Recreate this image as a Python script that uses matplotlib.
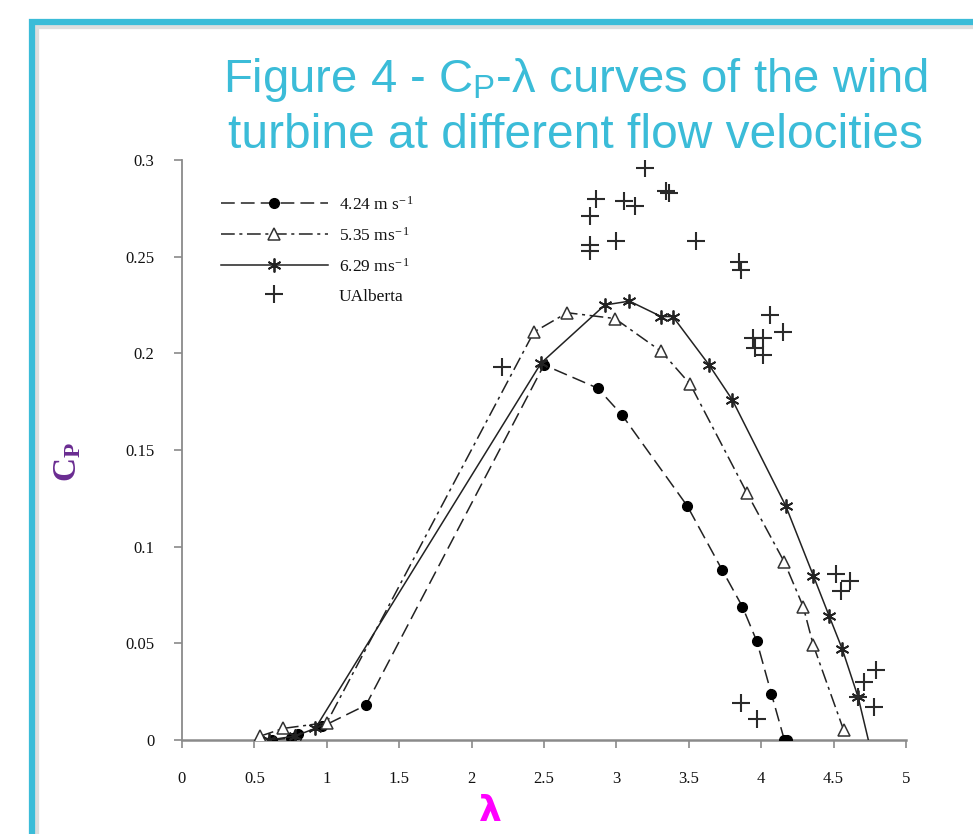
import matplotlib
matplotlib.use("Agg")
import matplotlib.pyplot as plt
from matplotlib.patches import Rectangle

# ---------------- data ----------------
circ_x = [0.62, 0.75, 0.80, 0.97, 1.27, 2.50, 2.87, 3.04, 3.49, 3.73, 3.87, 3.97, 4.07, 4.16, 4.18]
circ_y = [0.000, 0.001, 0.003, 0.007, 0.018, 0.194, 0.182, 0.168, 0.121, 0.088, 0.069, 0.051, 0.024, 0.000, 0.000]

tri_x = [0.54, 0.70, 1.00, 2.43, 2.66, 2.99, 3.31, 3.51, 3.90, 4.16, 4.29, 4.36, 4.57]
tri_y = [0.002, 0.006, 0.009, 0.211, 0.221, 0.218, 0.201, 0.184, 0.128, 0.092, 0.069, 0.049, 0.005]

star_x = [0.60, 0.78, 0.92, 2.48, 2.92, 3.09, 3.31, 3.39, 3.64, 3.80, 4.17, 4.36, 4.47, 4.56, 4.67, 4.74]
star_y = [0.000, 0.002, 0.006, 0.195, 0.225, 0.227, 0.219, 0.219, 0.194, 0.176, 0.121, 0.085, 0.064, 0.047, 0.022, 0.000]

ua_x = [3.20, 2.86, 2.82, 3.05, 3.13, 3.34, 3.36, 2.82, 2.82, 3.00, 3.55, 3.85, 3.86,
        4.06, 4.15, 3.94, 4.01, 3.96, 4.01, 2.21, 4.52, 4.61, 4.55, 4.79, 4.71, 4.67,
        4.78, 3.86, 3.97]
ua_y = [0.296, 0.280, 0.271, 0.279, 0.276, 0.284, 0.283, 0.256, 0.253, 0.258, 0.258, 0.247, 0.243,
        0.220, 0.211, 0.208, 0.208, 0.203, 0.199, 0.193, 0.086, 0.082, 0.077, 0.036, 0.030, 0.022,
        0.017, 0.019, 0.011]

series_labels = ["4.24 m s$^{-\\,1}$", "5.35 ms$^{-\\,1}$", "6.29 ms$^{-\\,1}$", "UAlberta"]
x_ticks = [0, 0.5, 1, 1.5, 2, 2.5, 3, 3.5, 4, 4.5, 5]
x_ticklabels = ["0", "0.5", "1", "1.5", "2", "2.5", "3", "3.5", "4", "4.5", "5"]
y_ticks = [0, 0.05, 0.1, 0.15, 0.2, 0.25, 0.3]
y_ticklabels = ["0", "0.05", "0.1", "0.15", "0.2", "0.25", "0.3"]

title_line1 = "Figure 4 - C$_\\mathregular{P}$-λ curves of the wind"
title_line2 = "turbine at different flow velocities"

# ---------------- style ----------------
plt.rcParams['mathtext.fontset'] = 'custom'
plt.rcParams['mathtext.rm'] = 'Liberation Serif'
plt.rcParams['mathtext.it'] = 'Liberation Serif'

W, H = 973, 834
fig = plt.figure(figsize=(W / 100, H / 100), dpi=100)
fig.patch.set_facecolor('white')

cyan = '#3bbcd8'
# slide frame with a soft shadow
shadow = Rectangle((35.5 / W, -0.2), 1.5, 1 - 25.5 / H + 0.2, transform=fig.transFigure,
                   fill=False, edgecolor='#dedede', linewidth=4.5, zorder=0)
frame = Rectangle((32 / W, -0.2), 1.5, 1 - 22 / H + 0.2, transform=fig.transFigure,
                  fill=False, edgecolor=cyan, linewidth=4.5, zorder=1)
fig.patches.extend([shadow, frame])

ax = fig.add_axes([182 / W, 94 / H, (906 - 182) / W, (740 - 160) / H])
ax.set_facecolor('none')

lc = '#222222'
ax.plot(circ_x, circ_y, color=lc, lw=1.1, dashes=(9, 4), marker='o', ms=7,
        mfc='black', mec='black', label=series_labels[0], zorder=3)
ax.plot(tri_x, tri_y, color=lc, lw=1.1, dashes=(9, 3, 2, 3), marker='^', ms=9,
        mfc='white', mec='#333333', mew=1.1, label=series_labels[1], zorder=3)
ax.plot(star_x, star_y, color=lc, lw=1.1, marker=(6, 2, 0), ms=10, mec='#222222', mew=1.3,
        markevery=list(range(len(star_x) - 1)), label=series_labels[2], zorder=3)
ax.plot(ua_x, ua_y, ls='none', marker='+', ms=13, mew=1.5, color='#2a2a2a',
        label=series_labels[3], zorder=4)

ax.set_xlim(0, 5)
ax.set_ylim(0, 0.3)
ax.set_xticks(x_ticks)
ax.set_xticklabels(x_ticklabels)
ax.set_yticks(y_ticks)
ax.set_yticklabels(y_ticklabels)

for s in ['top', 'right']:
    ax.spines[s].set_visible(False)
for s in ['left', 'bottom']:
    ax.spines[s].set_color('#8a8a8a')
    ax.spines[s].set_linewidth(1.8)
ax.spines['left'].set_linewidth(1.3)

ax.tick_params(axis='both', colors='#8a8a8a', labelcolor='#111111', length=6, width=1.2,
               labelsize=12, direction='out')
ax.tick_params(axis='x', pad=16)
ax.tick_params(axis='y', pad=14)
for lab in ax.get_xticklabels() + ax.get_yticklabels():
    lab.set_family('Liberation Serif')

leg = ax.legend(loc='upper left', bbox_to_anchor=(205 / W, 1 - 180 / H),
                bbox_transform=fig.transFigure, frameon=False, handlelength=6.2,
                handletextpad=0.6, labelspacing=0.75, prop={'family': 'Liberation Serif', 'size': 12.5})
for t in leg.get_texts():
    t.set_color('#111111')

# titles and axis labels
fig.text(576 / W, 1 - 80 / H, title_line1, ha='center', va='center', color=cyan,
         fontsize=34, family='Liberation Sans')
fig.text(575 / W, 1 - 135 / H, title_line2, ha='center', va='center', color=cyan,
         fontsize=34.5, family='Liberation Sans')

fig.text(68 / W, 1 - 462 / H, "C$_\\mathregular{P}$", rotation=90, ha='center', va='center',
         color='#6a2c91', fontsize=24, fontweight='bold', family='Liberation Serif')
fig.text(490 / W, 1 - 811 / H, "λ", ha='center', va='center', color='#ff00ff',
         fontsize=26, fontweight='bold', family='DejaVu Sans')

fig.savefig('out.png', dpi=100, facecolor='white')
